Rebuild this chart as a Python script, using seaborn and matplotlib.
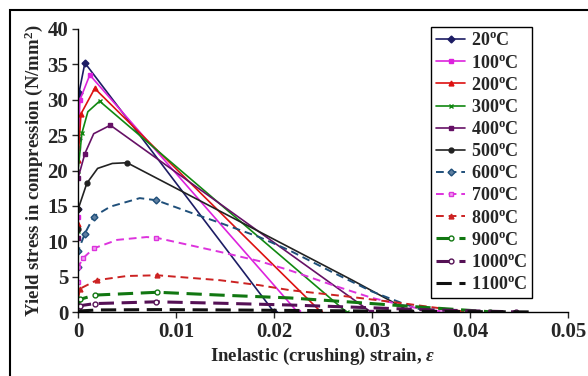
import matplotlib
matplotlib.use('Agg')
import matplotlib.pyplot as plt
from matplotlib.patches import Rectangle
import seaborn as sns

# temperatures (deg C) of each curve
temps = ['20', '100', '200', '300', '400', '500', '600', '700', '800', '900', '1000', '1100']

# inelastic strain / yield stress (N/mm2)
strain_20 = [0, 0, 0.0001, 0.0007, 0.0200]
stress_20 = [14.5, 24.5, 31.0, 35.2, 0.0]
strain_100 = [0, 0, 0.0002, 0.0012, 0.0224]
stress_100 = [13.5, 23.2, 30.0, 33.5, 0.0]
strain_200 = [0, 0, 0.0003, 0.0017, 0.0248]
stress_200 = [12.5, 21.5, 28.0, 31.6, 0.0]
strain_300 = [0, 0, 0.0004, 0.0010, 0.0022, 0.0274]
stress_300 = [11.5, 20.0, 25.3, 28.3, 29.8, 0.0]
strain_400 = [0, 0, 0.0007, 0.0016, 0.0033, 0.0299]
stress_400 = [10.5, 18.9, 22.4, 25.2, 26.4, 0.0]
strain_500 = [0, 0, 0.0009, 0.0020, 0.0035, 0.0050, 0.0280, 0.0340]
stress_500 = [11.7, 14.5, 18.2, 20.3, 21.0, 21.1, 4.5, 0.0]
strain_600 = [0, 0, 0.0007, 0.0016, 0.0033, 0.0063, 0.0080, 0.0120, 0.0145,
              0.0185, 0.0216, 0.0260, 0.0300, 0.0330, 0.0355]
stress_600 = [6.3, 8.6, 11.1, 13.5, 14.9, 16.1, 15.8, 13.8, 12.6,
              10.6, 8.7, 5.6, 2.9, 1.3, 0.1]
strain_700 = [0, 0, 0.0005, 0.0016, 0.0040, 0.0070, 0.0080, 0.0145, 0.0185,
              0.0216, 0.0260, 0.0300, 0.0340, 0.0370]
stress_700 = [4.3, 6.3, 7.6, 9.0, 10.2, 10.6, 10.5, 8.5, 7.2,
              5.9, 3.8, 2.0, 0.7, 0.1]
strain_800 = [0, 0.0002, 0.0019, 0.0050, 0.0081, 0.0145, 0.0185, 0.0216, 0.0275, 0.0328, 0.0396]
stress_800 = [1.8, 3.3, 4.5, 5.1, 5.2, 4.5, 3.8, 3.1, 2.2, 1.3, 0.05]
strain_900 = [0, 0.0002, 0.0017, 0.0081, 0.0145, 0.0216, 0.0280, 0.0350, 0.0420]
stress_900 = [0.8, 1.8, 2.4, 2.8, 2.4, 2.0, 1.4, 0.7, 0.05]
strain_1000 = [0, 0.0002, 0.0017, 0.0080, 0.0145, 0.0216, 0.0280, 0.0350, 0.0447]
stress_1000 = [0.4, 0.9, 1.2, 1.45, 1.25, 1.0, 0.7, 0.35, 0.03]
strain_1100 = [0, 0.0020, 0.0080, 0.0150, 0.0250, 0.0350, 0.0467]
stress_1100 = [0.15, 0.3, 0.35, 0.3, 0.2, 0.1, 0.02]

x_ticks = [0, 0.01, 0.02, 0.03, 0.04, 0.05]
x_tick_labels = ['0', '0.01', '0.02', '0.03', '0.04', '0.05']
y_ticks = [0, 5, 10, 15, 20, 25, 30, 35, 40]

curves = {
    '20': (strain_20, stress_20), '100': (strain_100, stress_100),
    '200': (strain_200, stress_200), '300': (strain_300, stress_300),
    '400': (strain_400, stress_400), '500': (strain_500, stress_500),
    '600': (strain_600, stress_600), '700': (strain_700, stress_700),
    '800': (strain_800, stress_800), '900': (strain_900, stress_900),
    '1000': (strain_1000, stress_1000), '1100': (strain_1100, stress_1100),
}

# color, linestyle, linewidth, marker, marker face, markevery
styles = {
    '20':   ('#1c1c64', '-', 1.2, 'D', '#1c1c64', None),
    '100':  ('#dd22dd', '-', 1.2, 's', '#dd22dd', None),
    '200':  ('#dd1111', '-', 1.2, '^', '#dd1111', None),
    '300':  ('#118811', '-', 1.2, 'x', '#118811', [0, 1, 2, 4, 5]),
    '400':  ('#661166', '-', 1.2, 's', '#661166', [0, 1, 2, 4, 5]),
    '500':  ('#222222', '-', 1.2, 'o', '#222222', [0, 1, 2, 5, 7]),
    '600':  ('#1f4f7a', (0, (4, 2.5)), 1.4, 'D', '#5f7fa0', [0, 1, 2, 3, 6, 14]),
    '700':  ('#dd33dd', (0, (4, 2.5)), 1.4, 's', '#f0a0f0', [0, 1, 2, 3, 6, 13]),
    '800':  ('#cc2222', (0, (4, 2.5)), 1.4, '^', '#cc2222', [0, 1, 2, 4, 10]),
    '900':  ('#117711', (0, (5, 2.5)), 2.2, 'o', 'white', [0, 1, 2, 3, 8]),
    '1000': ('#551155', (0, (5, 2.5)), 2.2, 'o', 'white', [0, 1, 2, 3, 8]),
    '1100': ('#111111', (0, (5, 2.5)), 2.2, None, 'none', None),
}

sns.set_style('ticks')
plt.rcParams['font.family'] = ['Liberation Serif', 'DejaVu Serif']
plt.rcParams['font.weight'] = 'bold'
plt.rcParams['mathtext.fontset'] = 'custom'
plt.rcParams['mathtext.rm'] = 'Liberation Serif:bold'
plt.rcParams['mathtext.bf'] = 'Liberation Serif:bold'
plt.rcParams['mathtext.it'] = 'Liberation Serif:italic:bold'

fig = plt.figure(figsize=(5.88, 3.76), dpi=100)
ax = fig.add_axes([0.1327, 0.170, 0.8333, 0.753])

for t in temps:
    xs, ys = curves[t]
    color, ls, lw, marker, mfc, every = styles[t]
    kws = dict(color=color, linestyle=ls, linewidth=lw)
    if marker:
        kws.update(marker=marker, markersize=3.5, markerfacecolor=mfc,
                   markeredgecolor=color, markeredgewidth=1.0, markevery=every)
    sns.lineplot(x=xs, y=ys, ax=ax, estimator=None, sort=False,
                 label=t + '$^{\\mathbf{o}}$C', **kws)

ax.set_xlim(0, 0.05)
ax.set_ylim(0, 40)
ax.set_xticks(x_ticks)
ax.set_xticklabels(x_tick_labels)
ax.set_yticks(y_ticks)
ax.tick_params(direction='out', length=4, width=1, labelsize=15, pad=3)
for lab in ax.get_xticklabels() + ax.get_yticklabels():
    lab.set_fontweight('bold')
for s in ['top', 'right']:
    ax.spines[s].set_visible(False)
for s in ['left', 'bottom']:
    ax.spines[s].set_linewidth(1.0)
    ax.spines[s].set_color('black')

ax.set_xlabel('Inelastic (crushing) strain, $\\varepsilon$', fontsize=13.5,
              fontweight='bold', labelpad=3)
ax.set_ylabel('Yield stress in compression (N/mm$^\\mathbf{2}$)', fontsize=13.5,
              fontweight='bold', labelpad=2)

leg = ax.legend(loc='upper left', bbox_to_anchor=(0.72, 1.007), fontsize=13,
                frameon=True, fancybox=False, framealpha=1, edgecolor='black',
                handlelength=1.6, handletextpad=0.3, labelspacing=0.285,
                borderpad=0.3, borderaxespad=0)
leg.get_frame().set_linewidth(1.0)

# outer frame of the figure
fig.patches.append(Rectangle((10 / 588, -0.1), 1.2, 1.1 - 10 / 376,
                             transform=fig.transFigure, fill=False,
                             edgecolor='black', linewidth=1.5))

plt.savefig('out.png', dpi=100)
plt.close()
